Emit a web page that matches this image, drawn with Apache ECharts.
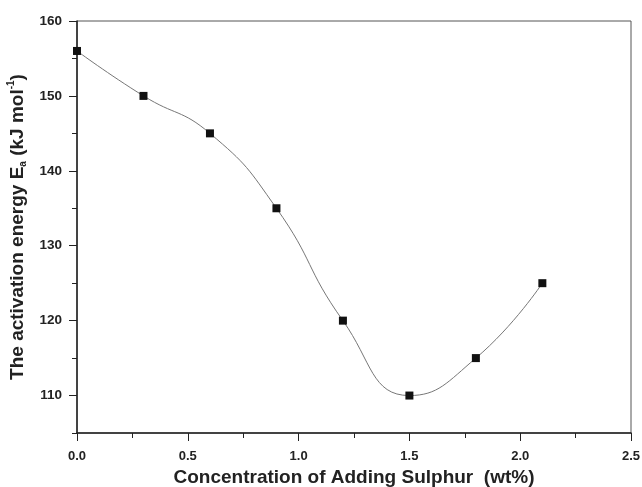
<!DOCTYPE html>
<html><head><meta charset="utf-8">
<script src="https://cdn.jsdelivr.net/npm/echarts@6/dist/echarts.min.js"></script>
<style>html,body{margin:0;padding:0;background:#fff}#c{width:642px;height:487px}</style>
</head><body><div id="c"></div>
<script>
const sulphur = [0, 0.3, 0.6, 0.9, 1.2, 1.5, 1.8, 2.1];
const energy = [156, 150, 145, 135, 120, 110, 115, 125];
const yMajor = [110, 120, 130, 140, 150, 160];
const yMinor = [105, 115, 125, 135, 145, 155];
const xTitle = 'Concentration of Adding Sulphur  (wt%)';

const font = '"Liberation Sans", Arial, sans-serif';
const chart = echarts.init(document.getElementById('c'));
chart.setOption({
  animation: false,
  backgroundColor: '#fff',
  grid: {left: 77, right: 11, top: 21, bottom: 54, outerBoundsMode: 'none', containLabel: false,
    show: true, borderColor: '#555', borderWidth: 1},
  xAxis: {
    type: 'value', min: 0, max: 2.5, interval: 0.5,
    name: xTitle, nameLocation: 'middle', nameGap: 35,
    nameTextStyle: {fontFamily: font, fontWeight: 'bold', fontSize: 19, color: '#222'},
    axisLine: {lineStyle: {color: '#222', width: 1.5}},
    axisTick: {length: 8, lineStyle: {color: '#222'}},
    minorTick: {show: true, splitNumber: 2, length: 5, lineStyle: {color: '#222'}},
    splitLine: {show: false},
    axisLabel: {fontFamily: font, fontWeight: 'bold', fontSize: 13, color: '#222', margin: 17,
      formatter: v => v.toFixed(1)}
  },
  yAxis: [{
    type: 'value', min: 105, max: 160,
    name: '{n|The activation energy E}{s|a}{n| (kJ mol}{p|-1}{n|)}',
    nameLocation: 'middle', nameGap: 41, nameRotate: 90,
    nameTextStyle: {rich: {
      n: {fontFamily: font, fontWeight: 'bold', fontSize: 19, color: '#222'},
      s: {fontFamily: font, fontWeight: 'bold', fontSize: 10, color: '#222', verticalAlign: 'bottom', padding: [12, 0, 0, 0]},
      p: {fontFamily: font, fontWeight: 'bold', fontSize: 10, color: '#222', verticalAlign: 'top', padding: [0, 0, 10, 0]}
    }},
    axisLine: {lineStyle: {color: '#222', width: 1.5}},
    axisTick: {customValues: yMajor, length: 8, lineStyle: {color: '#222'}},
    splitLine: {show: false},
    axisLabel: {customValues: yMajor, fontFamily: font, fontWeight: 'bold', fontSize: 13.5, color: '#222', margin: 15}
  }, {
    type: 'value', min: 105, max: 160, position: 'left',
    axisLine: {show: false},
    axisTick: {customValues: yMinor, length: 5, lineStyle: {color: '#222'}},
    axisLabel: {show: false},
    splitLine: {show: false}
  }],
  series: [{
    type: 'line', smooth: 0.5,
    data: sulphur.map((x, i) => [x, energy[i]]),
    symbol: 'rect', symbolSize: 8,
    itemStyle: {color: '#111'},
    lineStyle: {color: '#777', width: 1}
  }]
});
</script></body></html>
